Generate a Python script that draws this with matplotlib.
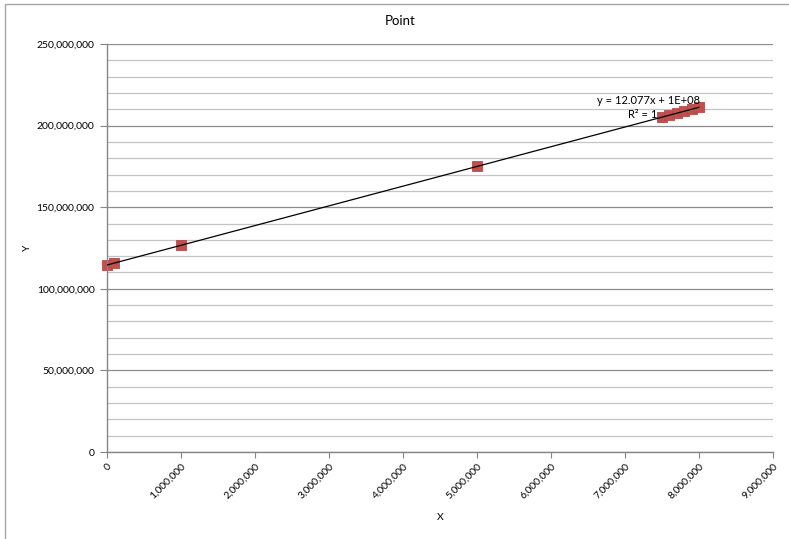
import matplotlib
matplotlib.use("Agg")
import matplotlib.pyplot as plt
from matplotlib.patches import Rectangle
from matplotlib.ticker import FuncFormatter, MultipleLocator
import numpy as np

x_vals = [0, 100000, 1000000, 5000000, 7500000, 7600000, 7700000, 7800000, 7900000, 8000000]
y_vals = [114500000, 115800000, 126700000, 175000000, 205200000, 206400000,
          207600000, 208800000, 210000000, 211200000]
trend_text = "y = 12.077x + 1E+08"
r2_text = "R² = 1"

plt.rcParams['font.family'] = ['Lato', 'DejaVu Sans']


def comma(v, pos):
    return "{:,.0f}".format(v)


def main():
    fig = plt.figure(figsize=(7.89, 5.39), dpi=100)
    fig.patches.append(Rectangle((5 / 789, -0.01), 1.0, 1.0 - 4 / 539 + 0.01,
                                 transform=fig.transFigure, fill=False,
                                 edgecolor="#a6a6a6", linewidth=1.0))
    ax = fig.add_axes([107 / 789, 1 - 452 / 539, 666 / 789, 408 / 539])

    ax.set_xlim(0, 9000000)
    ax.set_ylim(0, 250000000)
    ax.xaxis.set_major_locator(MultipleLocator(1000000))
    ax.yaxis.set_major_locator(MultipleLocator(50000000))
    ax.yaxis.set_minor_locator(MultipleLocator(10000000))
    ax.xaxis.set_major_formatter(FuncFormatter(comma))
    ax.yaxis.set_major_formatter(FuncFormatter(comma))

    ax.grid(axis="y", which="major", color="#8c8c8c", linewidth=0.9)
    ax.grid(axis="y", which="minor", color="#c4c4c4", linewidth=0.9)
    ax.set_axisbelow(True)

    for s in ("top", "right"):
        ax.spines[s].set_visible(False)
    for s in ("left", "bottom"):
        ax.spines[s].set_color("#868686")
        ax.spines[s].set_linewidth(1.0)

    ax.tick_params(axis="y", which="major", length=5, color="#868686", labelsize=7.5, pad=4)
    ax.tick_params(axis="y", which="minor", length=0)
    ax.tick_params(axis="x", length=4, color="#868686", labelsize=7.5, pad=3)
    for lab in ax.get_xticklabels():
        lab.set_rotation(45)
        lab.set_ha("right")
        lab.set_va("top")
        lab.set_rotation_mode("anchor")

    # linear trendline
    slope, intercept = np.polyfit(x_vals, y_vals, 1)
    xt = np.array([0, max(x_vals)])
    ax.plot(xt, slope * xt + intercept, color="black", linewidth=0.9, zorder=3)

    ax.scatter(x_vals, y_vals, marker="s", s=45, color="#c0504d",
               edgecolor="#b54a47", linewidth=0.6, zorder=2, clip_on=False)

    ax.text(7324000, 215100000, trend_text, fontsize=8, ha="center", va="center")
    ax.text(7432000, 207100000, r2_text, fontsize=8, ha="right", va="center")

    fig.text(400 / 789, 1 - 21 / 539, "Point", fontsize=9.5, ha="center", va="center")
    fig.text(440 / 789, 1 - 518 / 539, "X", fontsize=7.5, ha="center", va="center")
    fig.text(27 / 789, 1 - 248 / 539, "Y", fontsize=7.5, ha="center", va="center", rotation=90)

    fig.savefig("out.png", dpi=100)
    plt.close(fig)


if __name__ == "__main__":
    main()
